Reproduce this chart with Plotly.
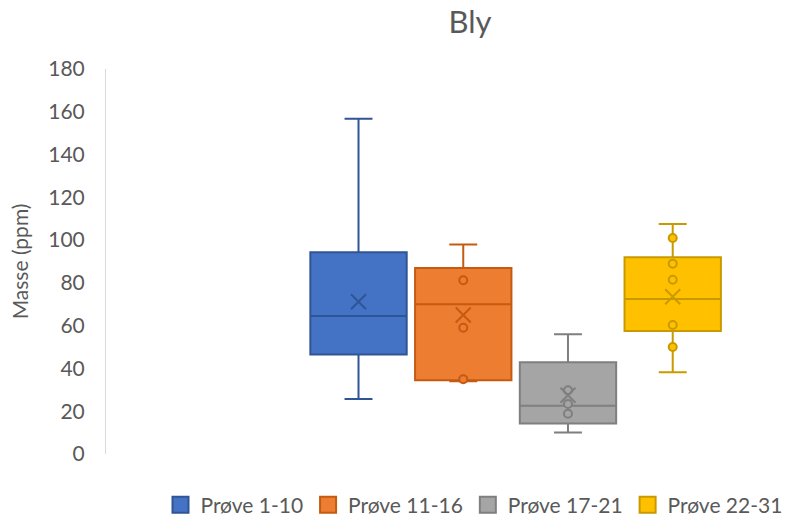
import plotly.graph_objects as go

# Box-and-whisker summary for lead (Bly) per sample group
series = ["Prøve 1-10", "Prøve 11-16", "Prøve 17-21", "Prøve 22-31"]
lower_whisker = [25.7, 34.0, 10.0, 38.2]
quartile1 = [46.5, 34.5, 14.3, 57.5]
median = [64.5, 70.0, 22.6, 72.5]
quartile3 = [94.3, 87.0, 42.9, 92.0]
upper_whisker = [156.7, 98.0, 56.0, 107.5]
means = [71.2, 65.0, 27.5, 73.5]
inner_points = [
    [],
    [81.2, 59.0, 35.0],
    [29.8, 23.4, 18.8],
    [101.0, 89.0, 81.5, 60.3, 50.0],
]

y_ticks = [0, 20, 40, 60, 80, 100, 120, 140, 160, 180]

fill_colors = ["#4472C4", "#ED7D31", "#A5A5A5", "#FFC000"]
line_colors = ["#2F5597", "#C55A11", "#7F7F7F", "#C99A00"]

TEXT = "#595959"
FONT = "Lato, 'Open Sans', sans-serif"

fig = go.Figure()

for i, name in enumerate(series):
    fig.add_trace(go.Box(
        x=[name],
        q1=[quartile1[i]],
        median=[median[i]],
        q3=[quartile3[i]],
        lowerfence=[lower_whisker[i]],
        upperfence=[upper_whisker[i]],
        width=0.92,
        whiskerwidth=0.29,
        fillcolor=fill_colors[i],
        line=dict(color=line_colors[i], width=2),
        showlegend=False,
        hoverinfo="skip",
    ))

for i, name in enumerate(series):
    pts = inner_points[i]
    if pts:
        fig.add_trace(go.Scatter(
            x=[name] * len(pts),
            y=pts,
            mode="markers",
            marker=dict(symbol="circle", size=8, color=fill_colors[i],
                        line=dict(color=line_colors[i], width=2)),
            showlegend=False,
            hoverinfo="skip",
        ))
    fig.add_trace(go.Scatter(
        x=[name],
        y=[means[i]],
        mode="markers",
        marker=dict(symbol="x-thin", size=15,
                    line=dict(color=line_colors[i], width=2)),
        showlegend=False,
        hoverinfo="skip",
    ))

# Legend entries as filled squares
for i, name in enumerate(series):
    fig.add_trace(go.Scatter(
        x=[None], y=[None],
        mode="markers",
        name=name,
        marker=dict(symbol="square", size=16, color=fill_colors[i],
                    line=dict(color=line_colors[i], width=2)),
    ))

fig.update_layout(
    width=794,
    height=526,
    margin=dict(l=106, r=0, t=69, b=72),
    paper_bgcolor="white",
    plot_bgcolor="white",
    font=dict(family=FONT, color=TEXT, size=21),
    title=dict(text="Bly", x=(470 - 106) / 688, xref="paper", xanchor="center",
               y=1 - 22 / 526, yanchor="middle",
               font=dict(size=31, color=TEXT, family=FONT)),
    showlegend=True,
    legend=dict(orientation="h", x=(474 - 106) / 688, xanchor="center",
                y=-(505 - 454) / 385, yanchor="middle",
                font=dict(size=21, color=TEXT, family=FONT),
                itemclick=False),
    boxmode="overlay",
)

fig.update_xaxes(
    type="category",
    categoryorder="array",
    categoryarray=series,
    range=[-2.411, 4.158],
    showticklabels=False,
    showline=False,
    showgrid=False,
    zeroline=False,
    ticks="",
)

fig.update_yaxes(
    range=[0, 180],
    tickvals=y_ticks,
    showgrid=False,
    zeroline=False,
    showline=True,
    linecolor="#D9D9D9",
    linewidth=1,
    ticks="",
    ticklabelstandoff=16,
    tickfont=dict(size=21, color=TEXT, family=FONT),
    title=dict(text="Masse (ppm)", standoff=13,
               font=dict(size=21, color=TEXT, family=FONT)),
)

fig.write_html("out.html")
